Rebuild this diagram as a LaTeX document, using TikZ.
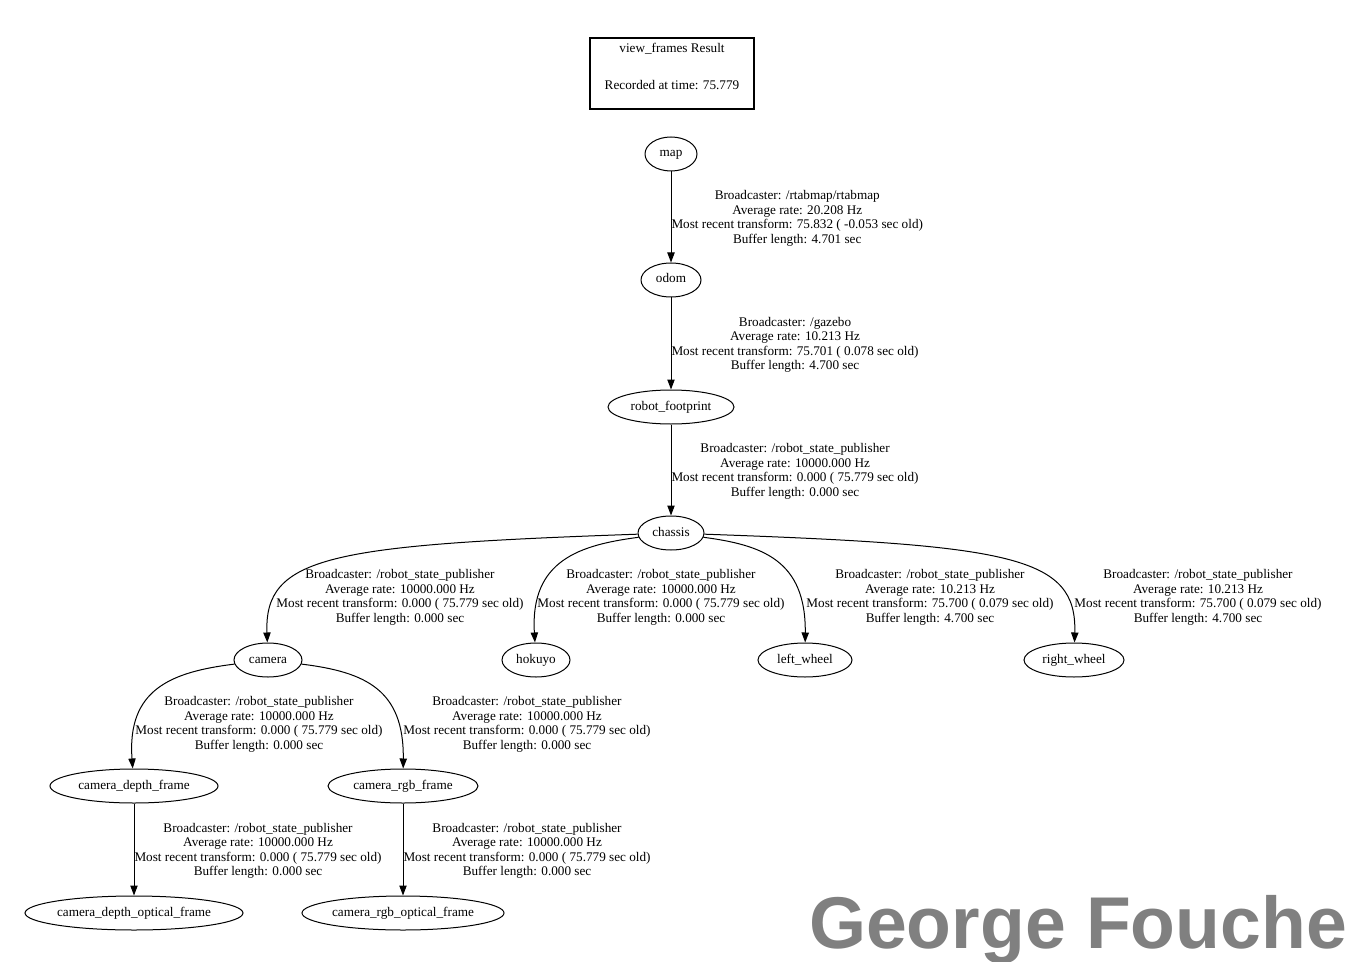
\documentclass[tikz,border=0pt]{standalone}
\usepackage{fontspec}
\setmainfont{Liberation Serif}
\newfontfamily\markfont{Liberation Sans}
\usetikzlibrary{shapes.geometric,arrows.meta}

\newcommand{\tfinfo}[4]{Broadcaster: #1\\Average rate: #2\\Most recent transform: #3\\Buffer length: #4}

\begin{document}
\begin{tikzpicture}[x=0.75pt,y=-0.75pt,font=\fontsize{9.9}{10.9}\selectfont,
  frame/.style={draw,ellipse,line width=0.75pt,inner xsep=0pt,inner ysep=0pt,text height=6.5pt,text depth=2pt,
    minimum height=25.5pt,minimum width=#1},
  frame/.default=0pt,
  tf/.style={-{Triangle[length=7.5pt,width=5.5pt]},line width=0.75pt},
  info/.style={align=center,inner sep=0pt,yshift=-1.1pt}]

  \useasboundingbox (0,0) rectangle (1351,962);

  \node[draw,line width=1.5pt,minimum width=123pt,minimum height=53pt,align=center] (title)
    at (672,73.5) {view\_frames Result\\[16.85pt]Recorded at time: 75.779\\\mbox{}};

  % frames
  \node[frame=39pt] (map) at (671,154) {map};
  \node[frame=45pt] (odom) at (671,280) {odom};
  \node[frame=94.5pt] (footprint) at (671,407) {robot\_footprint};
  \node[frame=49.5pt] (chassis) at (671,533) {chassis};
  \node[frame=51pt] (camera) at (268,660) {camera};
  \node[frame=51pt] (hokuyo) at (536,660) {hokuyo};
  \node[frame=70.5pt] (lwheel) at (805,660) {left\_wheel};
  \node[frame=75pt] (rwheel) at (1074,660) {right\_wheel};
  \node[frame=126pt] (depth) at (134,786) {camera\_depth\_frame};
  \node[frame=112.5pt] (rgb) at (403,786) {camera\_rgb\_frame};
  \node[frame=163.5pt] (depthopt) at (134,913) {camera\_depth\_optical\_frame};
  \node[frame=151.5pt] (rgbopt) at (403,913) {camera\_rgb\_optical\_frame};

  % straight transforms
  \draw[tf] (map) -- node[info,right] (i1)
    {\tfinfo{/rtabmap/rtabmap}{20.208 Hz}{75.832 ( -0.053 sec old)}{4.701 sec}} (odom);
  \draw[tf] (odom) -- node[info,right] (i2)
    {\tfinfo{/gazebo}{10.213 Hz}{75.701 ( 0.078 sec old)}{4.700 sec}} (footprint);
  \draw[tf] (footprint) -- node[info,right] (i3)
    {\tfinfo{/robot\_state\_publisher}{10000.000 Hz}{0.000 ( 75.779 sec old)}{0.000 sec}} (chassis);
  \draw[tf] (depth) -- node[info,right] (i10)
    {\tfinfo{/robot\_state\_publisher}{10000.000 Hz}{0.000 ( 75.779 sec old)}{0.000 sec}} (depthopt);
  \draw[tf] (rgb) -- node[info,right] (i11)
    {\tfinfo{/robot\_state\_publisher}{10000.000 Hz}{0.000 ( 75.779 sec old)}{0.000 sec}} (rgbopt);

  % curved transforms
  \draw[tf] (chassis) .. controls +(-341,12) and +(-4,-104) .. (camera);
  \draw[tf] (chassis) .. controls +(-91,12) and +(-6,-100) .. (hokuyo);
  \draw[tf] (chassis) .. controls +(91,12) and +(1,-100) .. (lwheel);
  \draw[tf] (chassis) .. controls +(341,12) and +(3,-104) .. (rwheel);
  \draw[tf] (camera) .. controls +(-98,12) and +(-7,-96) .. (depth);
  \draw[tf] (camera) .. controls +(98,12) and +(1,-96) .. (rgb);

  \foreach \n/\x/\y in {i4/400/596, i5/661/596, i8/259/723, i9/527/723}
    \node[info] (\n) at (\x,\y)
      {\tfinfo{/robot\_state\_publisher}{10000.000 Hz}{0.000 ( 75.779 sec old)}{0.000 sec}};

  \foreach \n/\x in {i6/930, i7/1198}
    \node[info] (\n) at (\x,596)
      {\tfinfo{/robot\_state\_publisher}{10.213 Hz}{75.700 ( 0.079 sec old)}{4.700 sec}};

  \node[text=gray,font=\markfont\bfseries\fontsize{55}{60}\selectfont,anchor=base,inner sep=0pt] (mark)
    at (1078,948) {George Fouche};
\end{tikzpicture}
\end{document}
